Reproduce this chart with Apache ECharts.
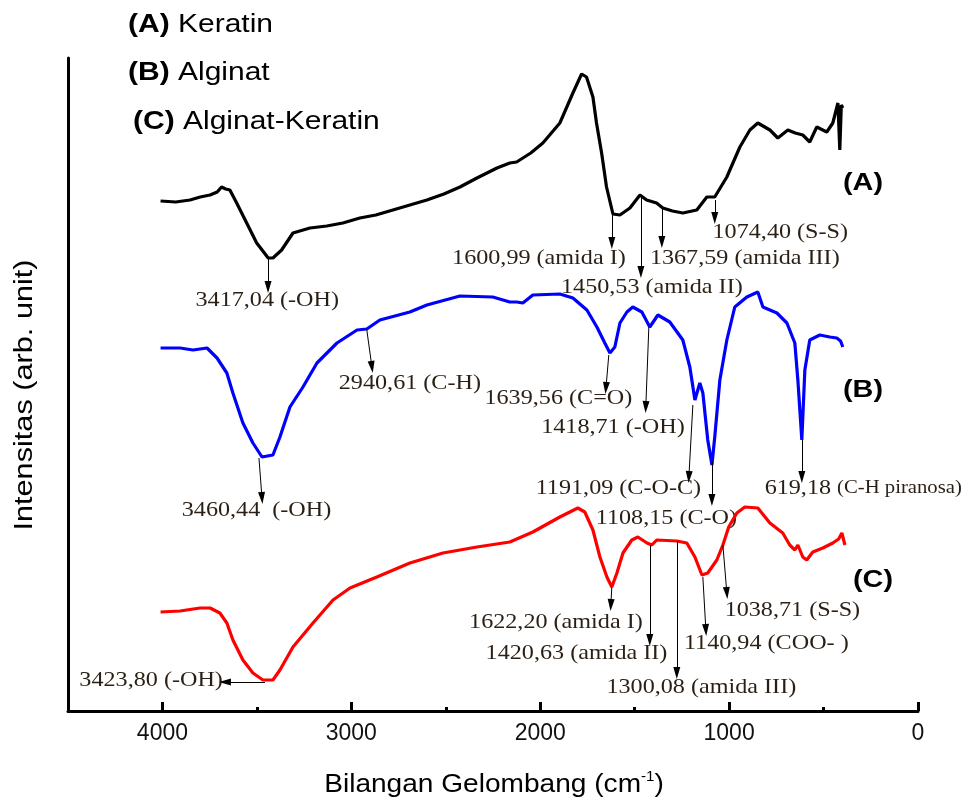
<!DOCTYPE html>
<html>
<head>
<meta charset="utf-8">
<script src="https://cdn.jsdelivr.net/npm/echarts@6/dist/echarts.min.js"></script>
<style>html,body{margin:0;padding:0;background:#fff}#c{width:974px;height:803px}</style>
</head>
<body>
<div id="c"></div>
<script>
// wavenumber (cm-1), intensity (arb. unit)
const keratin = [[4010,510],[3930,509],[3854,511],[3800,514],[3748,516],[3710,519],[3687,524],[3665,522],[3643,521],[3607,508],[3554,488],[3501,468],[3440,453],[3415,453],[3369,461],[3309,478],[3219,483],[3130,485],[3045,488],[2955,493],[2870,496],[2780,501],[2690,506],[2600,511],[2510,517],[2425,524],[2335,533],[2229,543],[2161,548],[2125,549],[2050,558],[1986,568],[1896,588],[1827,618],[1781,637],[1755,634],[1721,614],[1702,588],[1675,558],[1649,524],[1615,497],[1578,496],[1525,503],[1472,516],[1437,511],[1384,508],[1351,503],[1300,500],[1245,498],[1171,501],[1118,514],[1076,514],[1012,534],[943,564],[890,581],[848,588],[784,581],[742,573],[689,581],[650,578],[610,576],[573,569],[536,584],[483,579],[451,588],[424,608],[414,561],[406,606],[398,603]];
const alginat = [[4010,363],[3907,363],[3838,361],[3764,363],[3711,353],[3659,338],[3627,318],[3574,288],[3521,268],[3473,254],[3415,256],[3378,274],[3325,304],[3256,324],[3182,348],[3076,368],[2970,381],[2918,382],[2849,391],[2690,399],[2600,406],[2425,415],[2251,414],[2161,409],[2124,409],[2092,408],[2039,416],[1896,417],[1827,413],[1753,401],[1700,384],[1658,368],[1631,358],[1605,364],[1578,388],[1541,399],[1510,404],[1462,399],[1420,384],[1377,396],[1314,389],[1245,371],[1208,344],[1181,311],[1155,328],[1139,318],[1113,271],[1091,246],[1076,274],[1049,331],[1012,371],[970,404],[906,414],[848,419],[821,404],[747,398],[694,388],[652,368],[636,331],[615,271],[599,341],[573,371],[520,376],[467,374],[430,373],[410,370],[398,364]];
const alginatKeratin = [[4010,99],[3907,100],[3801,103],[3748,103],[3696,98],[3659,88],[3627,71],[3574,51],[3521,38],[3468,31],[3415,31],[3378,41],[3309,64],[3203,88],[3097,111],[3007,123],[2865,134],[2690,148],[2515,158],[2335,164],[2161,169],[2039,179],[1896,194],[1801,203],[1764,199],[1721,181],[1684,154],[1647,134],[1621,124],[1594,138],[1562,158],[1515,171],[1483,174],[1435,168],[1409,166],[1383,171],[1277,170],[1224,168],[1181,154],[1144,136],[1113,138],[1065,151],[1033,166],[1002,184],[959,198],[917,204],[848,203],[784,188],[716,178],[679,166],[652,161],[636,166],[610,154],[589,151],[557,159],[504,163],[451,168],[420,172],[403,178],[387,166]];
const xTicks = [0, 1000, 2000, 3000, 4000];
const legendLines = [['(A)', 'Keratin'], ['(B)', 'Alginat'], ['(C)', 'Alginat-Keratin']];
const curveTags = ['(A)', '(B)', '(C)'];
const annotations = [
  {s:'A', from:[3441,453], to:[3441,424], at:[3445,411], text:'3417,04 (-OH)'},
  {s:'A', from:[1621,496], to:[1621,468], at:[2007,453], text:'1600,99 (amida I)'},
  {s:'A', from:[1467,514], to:[1467,439], at:[1409,424], text:'1450,53 (amida II)'},
  {s:'A', from:[1356,504], to:[1356,469], at:[917,453], text:'1367,59 (amida III)'},
  {s:'A', from:[1076,511], to:[1076,493], at:[729,479], text:'1074,40 (S-S)'},
  {s:'B', from:[3489,253], to:[3473,213], at:[3502,201], text:'3460,44  (-OH)'},
  {s:'B', from:[2918,381], to:[2891,344], at:[2690,328], text:'2940,61 (C-H)'},
  {s:'B', from:[1637,356], to:[1652,323], at:[1904,313], text:'1639,56 (C=O)'},
  {s:'B', from:[1425,384], to:[1441,304], at:[1615,284], text:'1418,71 (-OH)'},
  {s:'B', from:[1192,306], to:[1213,234], at:[1586,223], text:'1191,09 (C-O-C)'},
  {s:'B', from:[1091,249], to:[1091,211], at:[1332,193], text:'1108,15 (C-O)'},
  {s:'B', from:[615,271], to:[615,234], at:[290,223], text:'619,18 {s|(C-H piranosa)}'},
  {s:'C', from:[3457,29], to:[3669,29], at:[3680,31], align:'right', text:'3423,80 (-OH)'},
  {s:'C', from:[1621,124], to:[1626,106], at:[1917,89], text:'1622,20 (amida I)'},
  {s:'C', from:[1420,166], to:[1420,71], at:[1808,58], text:'1420,63 (amida II)'},
  {s:'C', from:[1277,170], to:[1277,38], at:[1147,24], text:'1300,08 (amida III)'},
  {s:'C', from:[1139,134], to:[1123,81], at:[803,68], text:'1140,94 (COO- )'},
  {s:'C', from:[1033,166], to:[1012,118], at:[665,101], text:'1038,71 (S-S)'}
];

const SANS = '"Liberation Sans", Arial, sans-serif';
const SERIF = '"Liberation Serif", "Times New Roman", serif';
const ANN_COLOR = '#2a1f14';

const chart = echarts.init(document.getElementById('c'));
function arrows(key) {
  return annotations.filter(a => a.s === key).map(a => [{coord: a.from}, {coord: a.to}]);
}
function mk(key) {
  return {
    silent: true, animation: false,
    symbol: ['none', 'triangle'], symbolSize: [7, 12],
    label: {show: false},
    lineStyle: {color: '#000', width: 1, type: 'solid', opacity: 1},
    emphasis: {disabled: true},
    data: arrows(key)
  };
}
const colors = ['#000000', '#0000ff', '#ff0000'];
const datas = [keratin, alginat, alginatKeratin];
const keys = ['A', 'B', 'C'];
chart.setOption({
  animation: false,
  backgroundColor: '#fff',
  grid: {left: 68, right: 56, top: 58, bottom: 92, containLabel: false},
  xAxis: {
    type: 'value', min: 0, max: 4500, interval: 1000, inverse: true,
    axisLine: {show: true, onZero: false, lineStyle: {color: '#000', width: 3}},
    axisTick: {show: true, inside: true, length: 9, lineStyle: {color: '#000', width: 3}},
    minorTick: {show: true, splitNumber: 2, length: 4, lineStyle: {color: '#000', width: 3}},
    axisLabel: {
      margin: 11, color: '#111', fontFamily: SANS, fontSize: 23,
      formatter: v => xTicks.indexOf(v) >= 0 ? String(v) : ''
    },
    splitLine: {show: false}
  },
  yAxis: {
    type: 'value', min: 0, max: 653, position: 'left',
    axisLine: {show: true, onZero: false, lineStyle: {color: '#000', width: 3}},
    axisTick: {show: false}, axisLabel: {show: false}, splitLine: {show: false}
  },
  series: datas.map((d, i) => ({
    type: 'line', name: legendLines[i][1], data: d,
    showSymbol: false, symbol: 'none', smooth: false,
    lineStyle: {color: colors[i], width: 3.2},
    itemStyle: {color: colors[i]},
    emphasis: {disabled: true},
    markLine: mk(keys[i])
  }))
});

const g = [];
annotations.forEach(a => {
  const p = chart.convertToPixel({gridIndex: 0}, a.at);
  g.push({
    type: 'text', x: p[0], y: p[1], scaleX: 1.15, silent: true,
    style: {
      text: a.text, fontFamily: SERIF, fontSize: 21, fill: ANN_COLOR,
      align: a.align || 'center', verticalAlign: 'middle',
      rich: {s: {fontFamily: SERIF, fontSize: 18, fill: ANN_COLOR}}
    }
  });
});
const legendPos = [[128, 25], [128, 73], [133, 122]];
legendLines.forEach((l, i) => {
  g.push({
    type: 'text', x: legendPos[i][0], y: legendPos[i][1], scaleX: 1.2, silent: true,
    style: {
      text: '{b|' + l[0] + '} ' + l[1], fontFamily: SANS, fontSize: 25, fill: '#000',
      align: 'left', verticalAlign: 'middle',
      rich: {b: {fontFamily: SANS, fontSize: 25, fontWeight: 'bold', fill: '#000'}}
    }
  });
});
const tagPos = [[863, 183], [863, 390], [873, 580]];
curveTags.forEach((t, i) => {
  g.push({
    type: 'text', x: tagPos[i][0], y: tagPos[i][1], scaleX: 1.2, silent: true,
    style: {text: t, fontFamily: SANS, fontSize: 24, fontWeight: 'bold', fill: '#000', align: 'center', verticalAlign: 'middle'}
  });
});
g.push({
  type: 'text', x: 25, y: 395, rotation: Math.PI / 2, scaleX: 1.18, silent: true,
  style: {text: 'Intensitas (arb. unit)', fontFamily: SANS, fontSize: 26, fill: '#000', align: 'center', verticalAlign: 'middle'}
});
g.push({
  type: 'text', x: 494, y: 785, scaleX: 1.08, silent: true,
  style: {
    text: 'Bilangan Gelombang (cm{sup|-1})', fontFamily: SANS, fontSize: 26, fill: '#000',
    align: 'center', verticalAlign: 'middle', lineHeight: 30,
    rich: {sup: {fontFamily: SANS, fontSize: 14, fill: '#000', verticalAlign: 'top', lineHeight: 14}}
  }
});
chart.setOption({graphic: g});
</script>
</body>
</html>
